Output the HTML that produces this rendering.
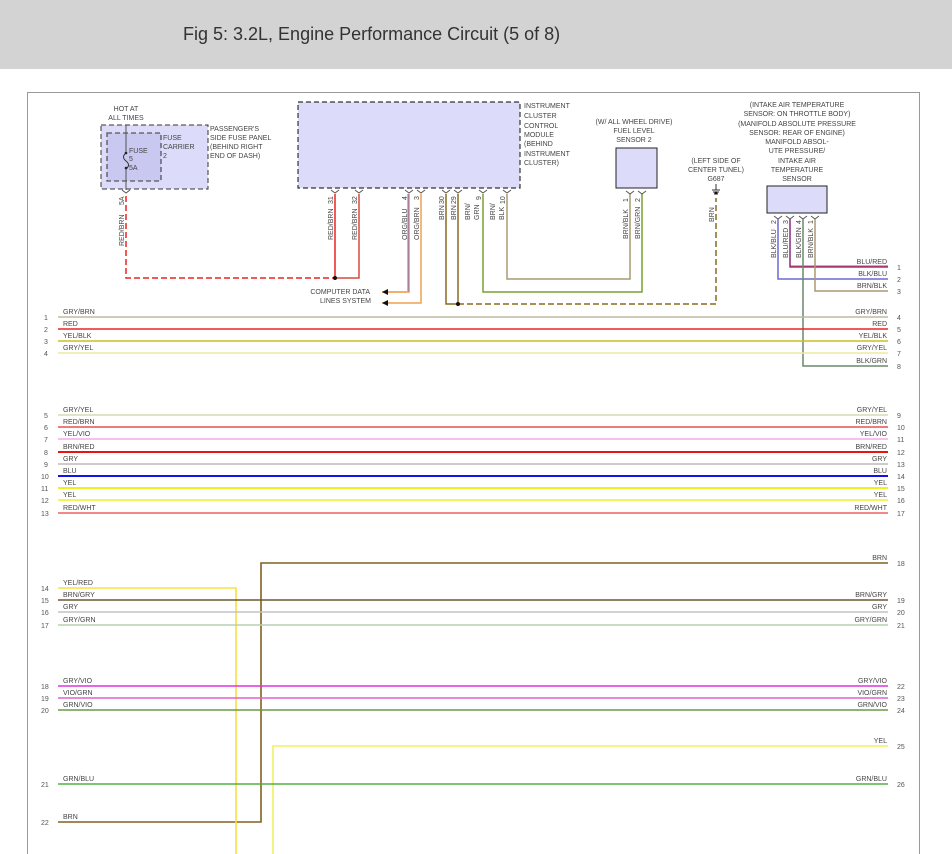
<!DOCTYPE html>
<html><head><meta charset="utf-8"><style>
html,body{margin:0;padding:0;background:#fff;}
svg{display:block;font-family:"Liberation Sans",sans-serif;}
.t{font-size:7px;fill:#444;}
.n{font-size:7px;fill:#555;}
.r{text-anchor:end;}
.c{text-anchor:middle;}
</style></head><body>
<svg width="952" height="854" viewBox="0 0 952 854" xmlns="http://www.w3.org/2000/svg">
<rect x="0" y="0" width="952" height="69" fill="#d3d3d3"/>
<text x="183" y="40" style="font-size:18px;fill:#333">Fig 5: 3.2L, Engine Performance Circuit (5 of 8)</text>
<rect x="27.5" y="92.5" width="892" height="770" fill="none" stroke="#999" stroke-width="1"/>

<!-- fuse panel -->
<rect x="101" y="125" width="107" height="64" fill="#dcdcfa" stroke="#333" stroke-dasharray="5,3"/>
<rect x="107" y="133" width="54" height="48" fill="#c8c8f0" stroke="#555" stroke-dasharray="5,3" stroke-width="1.3"/>
<line x1="126" y1="125" x2="126" y2="153" stroke="#555"/>
<path d="M126,153 q-5,4 0,8 q5,4 0,8" fill="none" stroke="#333"/>
<line x1="126" y1="168" x2="126" y2="190" stroke="#555"/>
<circle cx="126" cy="153" r="1.3" fill="#222"/><circle cx="126" cy="168" r="1.3" fill="#222"/>
<text class="t c" x="126" y="111">HOT AT</text><text class="t c" x="126" y="120">ALL TIMES</text>
<text class="t" x="129" y="153">FUSE</text><text class="t" x="129" y="161">5</text><text class="t" x="129" y="170">5A</text>
<text class="t" x="163" y="140">FUSE</text><text class="t" x="163" y="149">CARRIER</text><text class="t" x="163" y="158">2</text>
<text class="t" x="210" y="131">PASSENGER'S</text><text class="t" x="210" y="140">SIDE FUSE PANEL</text><text class="t" x="210" y="149">(BEHIND RIGHT</text><text class="t" x="210" y="158">END OF DASH)</text>
<path d="M122,190 l4,3 l4,-3" fill="none" stroke="#555"/>
<text class="t" transform="translate(124,205) rotate(-90)">5A</text>
<text class="t" transform="translate(124,246) rotate(-90)">RED/BRN</text>
<path d="M126,196 V278 H335" fill="none" stroke="#e22" stroke-width="1.5" stroke-dasharray="6,3"/>

<!-- ICM -->
<rect x="298" y="102" width="222" height="86" fill="#dcdcfa" stroke="#333" stroke-dasharray="5,3" stroke-width="1.2"/>
<text class="t" x="524" y="108">INSTRUMENT</text><text class="t" x="524" y="118">CLUSTER</text><text class="t" x="524" y="128">CONTROL</text><text class="t" x="524" y="137">MODULE</text><text class="t" x="524" y="146">(BEHIND</text><text class="t" x="524" y="156">INSTRUMENT</text><text class="t" x="524" y="165">CLUSTER)</text>
<g fill="none" stroke="#555">
<path d="M331,190 l4,3 l4,-3"/><path d="M355,190 l4,3 l4,-3"/><path d="M405,190 l4,3 l4,-3"/><path d="M417,190 l4,3 l4,-3"/>
<path d="M442,190 l4,3 l4,-3"/><path d="M454,190 l4,3 l4,-3"/><path d="M479,190 l4,3 l4,-3"/><path d="M503,190 l4,3 l4,-3"/>
</g>
<g class="t">
<text class="t" transform="translate(333,204) rotate(-90)">31</text><text class="t" transform="translate(357,204) rotate(-90)">32</text>
<text class="t" transform="translate(407,200) rotate(-90)">4</text><text class="t" transform="translate(419,200) rotate(-90)">3</text>
<text class="t" transform="translate(444,204) rotate(-90)">30</text><text class="t" transform="translate(456,204) rotate(-90)">29</text>
<text class="t" transform="translate(481,200) rotate(-90)">9</text><text class="t" transform="translate(505,204) rotate(-90)">10</text>
<text class="t" transform="translate(333,240) rotate(-90)">RED/BRN</text><text class="t" transform="translate(357,240) rotate(-90)">RED/BRN</text>
<text class="t" transform="translate(407,240) rotate(-90)">ORG/BLU</text><text class="t" transform="translate(419,240) rotate(-90)">ORG/BRN</text>
<text class="t" transform="translate(444,220) rotate(-90)">BRN</text><text class="t" transform="translate(456,220) rotate(-90)">BRN</text>
<text class="t" transform="translate(470,220) rotate(-90)">BRN/</text><text class="t" transform="translate(479,220) rotate(-90)">GRN</text>
<text class="t" transform="translate(495,220) rotate(-90)">BRN/</text><text class="t" transform="translate(504,220) rotate(-90)">BLK</text>
</g>
<g fill="none" stroke-width="1.5">
<path d="M335,194 V278" stroke="#e22"/>
<path d="M359,194 V278 H335" stroke="#d94a3a"/>
<path d="M409,194 V292 H382" stroke="#e8963a"/><path d="M408,194 V291" stroke="#6a6af0" stroke-width="1"/>
<path d="M421,194 V303 H382" stroke="#f0a050"/>
<path d="M446,194 V304 H458" stroke="#8a6a20"/>
<path d="M458,194 V304" stroke="#8a6a20"/>
<path d="M458,304 H716 V198" stroke="#8a6a20" stroke-dasharray="6,3"/>
<path d="M483,194 V292 H642 V194" stroke="#7aa030"/>
<path d="M507,194 V279 H630 V194" stroke="#a89a70"/>
</g>
<circle cx="335" cy="278" r="2" fill="#111"/><circle cx="458" cy="304" r="2" fill="#111"/>
<path d="M382,292 l6,-3 v6 z M382,303 l6,-3 v6 z" fill="#111"/>
<text class="t r" x="370" y="294">COMPUTER DATA</text><text class="t r" x="371" y="303">LINES SYSTEM</text>

<!-- fuel level sensor -->
<rect x="616" y="148" width="41" height="40" fill="#dcdcfa" stroke="#222"/>
<text class="t c" x="634" y="124">(W/ ALL WHEEL DRIVE)</text><text class="t c" x="634" y="133">FUEL LEVEL</text><text class="t c" x="634" y="142">SENSOR 2</text>
<path d="M626,191 l4,3 l4,-3 M638,191 l4,3 l4,-3" fill="none" stroke="#555"/>
<text class="t" transform="translate(628,202) rotate(-90)">1</text><text class="t" transform="translate(640,202) rotate(-90)">2</text>
<text class="t" transform="translate(628,239) rotate(-90)">BRN/BLK</text><text class="t" transform="translate(640,239) rotate(-90)">BRN/GRN</text>

<!-- G687 -->
<text class="t c" x="716" y="163">(LEFT SIDE OF</text><text class="t c" x="716" y="172">CENTER TUNEL)</text><text class="t c" x="716" y="181">G687</text>
<path d="M716,184 v6 M712,190 h8 M713,192 h6 M714,194 h4" stroke="#333" fill="none"/>
<circle cx="716" cy="193" r="1.5" fill="#111"/>
<text class="t" transform="translate(714,222) rotate(-90)">BRN</text>

<!-- MAP sensor -->
<text class="t c" x="797" y="107">(INTAKE AIR TEMPERATURE</text><text class="t c" x="797" y="116">SENSOR: ON THROTTLE BODY)</text><text class="t c" x="797" y="126">(MANIFOLD ABSOLUTE PRESSURE</text><text class="t c" x="797" y="135">SENSOR: REAR OF ENGINE)</text><text class="t c" x="797" y="144">MANIFOLD ABSOL-</text><text class="t c" x="797" y="153">UTE PRESSURE/</text><text class="t c" x="797" y="163">INTAKE AIR</text><text class="t c" x="797" y="172">TEMPERATURE</text><text class="t c" x="797" y="181">SENSOR</text>
<rect x="767" y="186" width="60" height="27" fill="#dcdcfa" stroke="#222"/>
<path d="M774,216 l4,3 l4,-3 M786,216 l4,3 l4,-3 M799,216 l4,3 l4,-3 M811,216 l4,3 l4,-3" fill="none" stroke="#555"/>
<text class="t" transform="translate(776,224) rotate(-90)">2</text><text class="t" transform="translate(788,224) rotate(-90)">3</text><text class="t" transform="translate(801,224) rotate(-90)">4</text><text class="t" transform="translate(813,224) rotate(-90)">1</text>
<text class="t" transform="translate(776,258) rotate(-90)">BLK/BLU</text><text class="t" transform="translate(788,258) rotate(-90)">BLU/RED</text><text class="t" transform="translate(801,258) rotate(-90)">BLK/GRN</text><text class="t" transform="translate(813,258) rotate(-90)">BRN/BLK</text>
<g fill="none" stroke-width="1.5">
<path d="M790,219 V267 H888" stroke="#e22"/><path d="M790,219 V266 H888" stroke="#33c" stroke-width="0.8"/>
<path d="M778,219 V279 H888" stroke="#6a6ad0"/>
<path d="M815,219 V291 H888" stroke="#a89a70"/>
<path d="M803,219 V366 H888" stroke="#6a8a6a"/>
</g>
<text class="t r" x="887" y="264">BLU/RED</text><text class="t r" x="887" y="276">BLK/BLU</text><text class="t r" x="887" y="288">BRN/BLK</text><text class="t r" x="887" y="363">BLK/GRN</text>
<text class="n" x="897" y="270">1</text><text class="n" x="897" y="282">2</text><text class="n" x="897" y="294">3</text><text class="n" x="897" y="369">8</text>

<!-- horizontal wires -->
<g stroke-width="1.6">
<line x1="58" y1="317" x2="888" y2="317" stroke="#c0b8a0"/>
<line x1="58" y1="329" x2="888" y2="329" stroke="#ee2222"/>
<line x1="58" y1="341" x2="888" y2="341" stroke="#c8c020"/>
<line x1="58" y1="353" x2="888" y2="353" stroke="#eee8a0"/>
<line x1="58" y1="415" x2="888" y2="415" stroke="#d8d8b0"/>
<line x1="58" y1="427" x2="888" y2="427" stroke="#e85050"/>
<line x1="58" y1="439" x2="888" y2="439" stroke="#f8a8e8"/>
<line x1="58" y1="452" x2="888" y2="452" stroke="#ee1111" stroke-width="2"/>
<line x1="58" y1="464" x2="888" y2="464" stroke="#bbbbbb"/>
<line x1="58" y1="476" x2="888" y2="476" stroke="#1111ee" stroke-width="2"/>
<line x1="58" y1="488" x2="888" y2="488" stroke="#f0f020" stroke-width="2"/>
<line x1="58" y1="500" x2="888" y2="500" stroke="#f0f020"/>
<line x1="58" y1="513" x2="888" y2="513" stroke="#f06060"/>
<path d="M888,563 H261 V822 H58" fill="none" stroke="#806020" stroke-width="1.6"/>
<path d="M58,588 H236 V854" fill="none" stroke="#f8e040" stroke-width="1.6"/>
<line x1="58" y1="600" x2="888" y2="600" stroke="#6a5a30"/>
<line x1="58" y1="612" x2="888" y2="612" stroke="#c4c4c4"/>
<line x1="58" y1="625" x2="888" y2="625" stroke="#b8d0b0"/>
<line x1="58" y1="686" x2="888" y2="686" stroke="#e030e0"/>
<line x1="58" y1="698" x2="888" y2="698" stroke="#e060d0"/>
<line x1="58" y1="710" x2="888" y2="710" stroke="#6a9a40"/>
<path d="M888,746 H273 V854" fill="none" stroke="#f0f060" stroke-width="1.6"/>
<line x1="58" y1="784" x2="888" y2="784" stroke="#50b040"/>
</g>
<g class="t">
<text x="63" y="314">GRY/BRN</text><text x="63" y="326">RED</text><text x="63" y="338">YEL/BLK</text><text x="63" y="350">GRY/YEL</text>
<text x="63" y="412">GRY/YEL</text><text x="63" y="424">RED/BRN</text><text x="63" y="436">YEL/VIO</text><text x="63" y="449">BRN/RED</text><text x="63" y="461">GRY</text><text x="63" y="473">BLU</text><text x="63" y="485">YEL</text><text x="63" y="497">YEL</text><text x="63" y="510">RED/WHT</text>
<text x="63" y="585">YEL/RED</text><text x="63" y="597">BRN/GRY</text><text x="63" y="609">GRY</text><text x="63" y="622">GRY/GRN</text>
<text x="63" y="683">GRY/VIO</text><text x="63" y="695">VIO/GRN</text><text x="63" y="707">GRN/VIO</text><text x="63" y="781">GRN/BLU</text><text x="63" y="819">BRN</text>
</g>
<g class="t r">
<text x="887" y="314">GRY/BRN</text><text x="887" y="326">RED</text><text x="887" y="338">YEL/BLK</text><text x="887" y="350">GRY/YEL</text>
<text x="887" y="412">GRY/YEL</text><text x="887" y="424">RED/BRN</text><text x="887" y="436">YEL/VIO</text><text x="887" y="449">BRN/RED</text><text x="887" y="461">GRY</text><text x="887" y="473">BLU</text><text x="887" y="485">YEL</text><text x="887" y="497">YEL</text><text x="887" y="510">RED/WHT</text>
<text x="887" y="560">BRN</text><text x="887" y="597">BRN/GRY</text><text x="887" y="609">GRY</text><text x="887" y="622">GRY/GRN</text>
<text x="887" y="683">GRY/VIO</text><text x="887" y="695">VIO/GRN</text><text x="887" y="707">GRN/VIO</text><text x="887" y="743">YEL</text><text x="887" y="781">GRN/BLU</text>
</g>
<g class="n">
<text x="44" y="320">1</text><text x="44" y="332">2</text><text x="44" y="344">3</text><text x="44" y="356">4</text>
<text x="44" y="418">5</text><text x="44" y="430">6</text><text x="44" y="442">7</text><text x="44" y="455">8</text><text x="44" y="467">9</text><text x="41" y="479">10</text><text x="41" y="491">11</text><text x="41" y="503">12</text><text x="41" y="516">13</text>
<text x="41" y="591">14</text><text x="41" y="603">15</text><text x="41" y="615">16</text><text x="41" y="628">17</text>
<text x="41" y="689">18</text><text x="41" y="701">19</text><text x="41" y="713">20</text><text x="41" y="787">21</text><text x="41" y="825">22</text>
<text x="897" y="320">4</text><text x="897" y="332">5</text><text x="897" y="344">6</text><text x="897" y="356">7</text>
<text x="897" y="418">9</text><text x="897" y="430">10</text><text x="897" y="442">11</text><text x="897" y="455">12</text><text x="897" y="467">13</text><text x="897" y="479">14</text><text x="897" y="491">15</text><text x="897" y="503">16</text><text x="897" y="516">17</text>
<text x="897" y="566">18</text><text x="897" y="603">19</text><text x="897" y="615">20</text><text x="897" y="628">21</text>
<text x="897" y="689">22</text><text x="897" y="701">23</text><text x="897" y="713">24</text><text x="897" y="749">25</text><text x="897" y="787">26</text>
</g>
</svg>
</body></html>
